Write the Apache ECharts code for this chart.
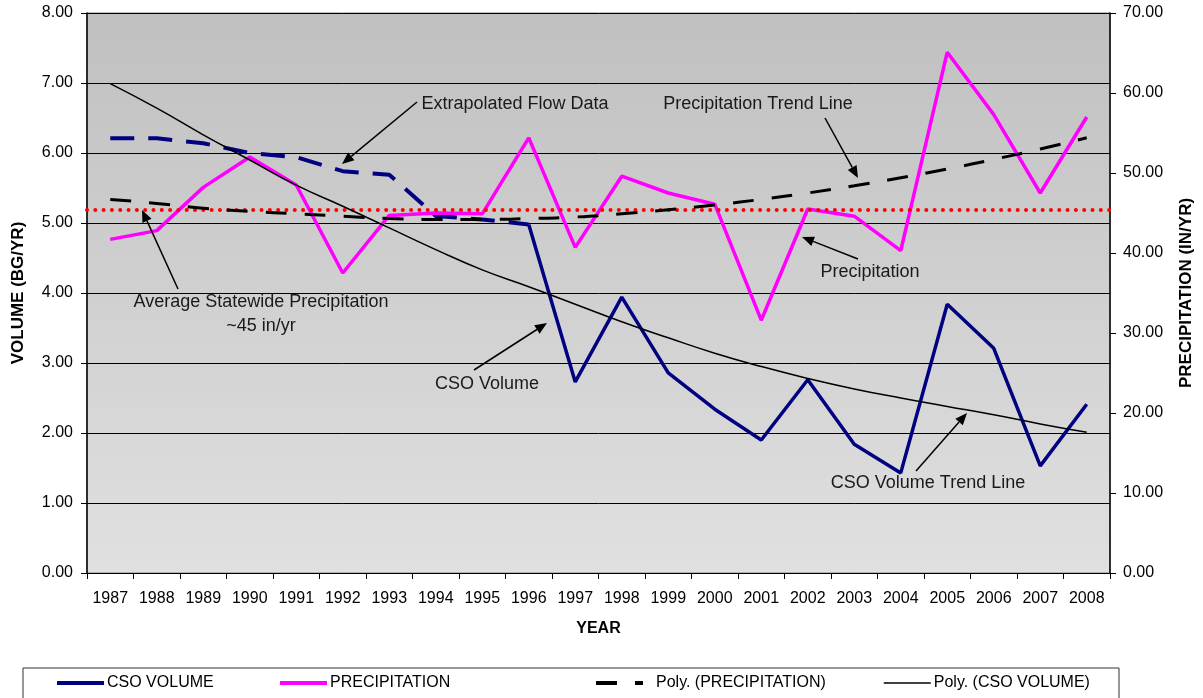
<!DOCTYPE html>
<html>
<head>
<meta charset="utf-8">
<script src="https://cdn.jsdelivr.net/npm/echarts@6/dist/echarts.min.js"></script>
<style>
  html, body { margin: 0; padding: 0; background: #fff; }
  #main { width: 1203px; height: 698px; }
</style>
</head>
<body>
<div id="main"></div>
<script>
// years on the category axis
var years = ['1987', '1988', '1989', '1990', '1991', '1992', '1993', '1994', '1995', '1996', '1997',
             '1998', '1999', '2000', '2001', '2002', '2003', '2004', '2005', '2006', '2007', '2008'];

// measured CSO volume (BG/YR), from 1996 on
var csoVolume = [null, null, null, null, null, null, null, null, null, 4.98, 2.73,
                 3.94, 2.86, 2.34, 1.90, 2.76, 1.84, 1.43, 3.84, 3.21, 1.53, 2.41];

// extrapolated flow data (BG/YR), 1987-1996
var extrapolated = [6.21, 6.21, 6.14, 6.00, 5.94, 5.74, 5.69, 5.10, 5.05, 4.98, null,
                    null, null, null, null, null, null, null, null, null, null, null];

// precipitation (IN/YR)
var precipitation = [41.7, 42.8, 48.2, 52.0, 48.5, 37.5, 44.7, 45.0, 44.9, 54.4, 40.7,
                     49.6, 47.5, 46.1, 31.6, 45.5, 44.6, 40.3, 65.1, 57.3, 47.5, 57.0];

// polynomial trend of precipitation (IN/YR)
var polyPrecip = [46.7, 46.2, 45.6, 45.2, 44.9, 44.6, 44.3, 44.2, 44.2, 44.3, 44.5,
                  44.9, 45.4, 46.0, 46.7, 47.5, 48.4, 49.4, 50.5, 51.7, 53.0, 54.4];

// polynomial trend of CSO volume (BG/YR)
var polyCso = [6.99, 6.64, 6.26, 5.90, 5.54, 5.24, 4.93, 4.62, 4.33, 4.09, 3.84,
               3.59, 3.36, 3.14, 2.95, 2.78, 2.63, 2.50, 2.38, 2.26, 2.13, 2.01];

// average statewide precipitation (IN/YR)
var avgPrecip = 45.4;

var FONT = '"Liberation Sans", Arial, sans-serif';

// arrow annotation: line from (x1,y1) with a filled head at (x2,y2)
function arrow(x1, y1, x2, y2) {
    var dx = x2 - x1, dy = y2 - y1;
    var len = Math.sqrt(dx * dx + dy * dy);
    var ux = dx / len, uy = dy / len;
    var hl = 12, hw = 5;
    var bx = x2 - ux * hl, by = y2 - uy * hl;
    return [{
        type: 'line',
        shape: { x1: x1, y1: y1, x2: bx, y2: by },
        style: { stroke: '#000', lineWidth: 1.5 },
        z: 100
    }, {
        type: 'polygon',
        shape: { points: [[x2, y2], [bx - uy * hw, by + ux * hw], [bx + uy * hw, by - ux * hw]] },
        style: { fill: '#000' },
        z: 100
    }];
}

function note(text, x, y) {
    return {
        type: 'text',
        x: x, y: y,
        style: {
            text: text, fill: '#1a1a1a', font: '18px ' + FONT,
            textAlign: 'center', textVerticalAlign: 'middle'
        },
        z: 100
    };
}

var graphics = [].concat(
    note('Extrapolated Flow Data', 515, 104),
    arrow(417, 102, 342, 164),
    note('Precipitation Trend Line', 758, 104),
    arrow(825, 118, 858, 178),
    note('Precipitation', 870, 272),
    arrow(858, 259, 802, 237),
    note('Average Statewide Precipitation', 261, 302),
    note('~45 in/yr', 261, 326),
    arrow(178, 289, 142, 210),
    note('CSO Volume', 487, 384),
    arrow(474, 370, 547, 323),
    note('CSO Volume Trend Line', 928, 483),
    arrow(916, 471, 967, 413),
    [{
        type: 'rect',
        shape: { x: 23, y: 668, width: 1096, height: 40 },
        style: { fill: 'none', stroke: '#333', lineWidth: 1 },
        z: 50
    }]
);

function legendAt(name, left, w, pad) {
    return {
        data: [name], left: left, top: 675, padding: 0,
        itemWidth: 47, itemHeight: 14, itemGap: 0,
        itemStyle: { opacity: 0 },
        lineStyle: { width: w },
        textStyle: { fontSize: 16, fontFamily: FONT, color: '#000', padding: [0, 0, 0, pad] }
    };
}

var chart = echarts.init(document.getElementById('main'));
chart.setOption({
    backgroundColor: '#fff',
    animation: false,
    textStyle: { fontFamily: FONT },
    grid: {
        left: 87, right: 93, top: 13, bottom: 125,
        show: true,
        borderColor: '#808080', borderWidth: 1,
        backgroundColor: new echarts.graphic.LinearGradient(0, 0, 0, 1, [
            { offset: 0, color: '#c0c0c0' },
            { offset: 1, color: '#e0e0e0' }
        ])
    },
    legend: [
        legendAt('CSO VOLUME', 55, 4, -2),
        legendAt('PRECIPITATION', 278, 4, -2),
        legendAt('Poly. (PRECIPITATION)', 594, 4, 8),
        legendAt('Poly. (CSO VOLUME)', 883, 1.5, -2)
    ],
    xAxis: {
        type: 'category',
        data: years,
        boundaryGap: true,
        name: 'YEAR',
        nameLocation: 'middle',
        nameGap: 48,
        nameTextStyle: { fontWeight: 'bold', fontSize: 16, color: '#000' },
        axisLine: { lineStyle: { color: '#000', width: 1 } },
        axisTick: { show: true, length: 6, lineStyle: { color: '#000' } },
        axisLabel: { fontSize: 16, color: '#000', margin: 18, interval: 0 },
        splitLine: { show: false }
    },
    yAxis: [{
        type: 'value',
        min: 0, max: 8, interval: 1,
        name: 'VOLUME (BG/YR)',
        nameLocation: 'middle',
        nameGap: 60,
        nameTextStyle: { fontWeight: 'bold', fontSize: 17, color: '#000' },
        axisLine: { show: true, lineStyle: { color: '#000', width: 1.5 } },
        axisTick: { show: true, length: 6, lineStyle: { color: '#000' } },
        axisLabel: { fontSize: 16, color: '#000', margin: 14, formatter: function (v) { return v.toFixed(2); } },
        splitLine: { show: true, lineStyle: { color: '#000', width: 1 } }
    }, {
        type: 'value',
        min: 0, max: 70, interval: 10,
        position: 'right',
        name: 'PRECIPITATION (IN/YR)',
        nameLocation: 'middle',
        nameGap: 68,
        nameTextStyle: { fontWeight: 'bold', fontSize: 17, color: '#000' },
        axisLine: { show: true, lineStyle: { color: '#000', width: 1.5 } },
        axisTick: { show: true, length: 6, lineStyle: { color: '#000' } },
        axisLabel: { fontSize: 16, color: '#000', margin: 13, formatter: function (v) { return v.toFixed(2); } },
        splitLine: { show: false }
    }],
    series: [{
        name: 'CSO VOLUME',
        type: 'line',
        yAxisIndex: 0,
        data: csoVolume,
        symbol: 'none',
        lineStyle: { color: '#000080', width: 3.5 },
        itemStyle: { color: '#000080' },
        z: 3
    }, {
        name: 'Extrapolated Flow Data',
        type: 'line',
        yAxisIndex: 0,
        data: extrapolated,
        symbol: 'none',
        lineStyle: { color: '#000080', width: 4, type: [24, 14] },
        itemStyle: { color: '#000080' },
        z: 3
    }, {
        name: 'PRECIPITATION',
        type: 'line',
        yAxisIndex: 1,
        data: precipitation,
        symbol: 'none',
        lineStyle: { color: '#ff00ff', width: 3.5 },
        itemStyle: { color: '#ff00ff' },
        z: 4,
        markLine: {
            silent: true,
            symbol: ['none', 'none'],
            label: { show: false },
            lineStyle: { color: '#ff0000', width: 4, type: [0.01, 8.3], cap: 'round' },
            data: [{ yAxis: avgPrecip }]
        }
    }, {
        name: 'Poly. (PRECIPITATION)',
        type: 'line',
        yAxisIndex: 1,
        data: polyPrecip,
        symbol: 'none',
        smooth: true,
        lineStyle: { color: '#000', width: 3, type: [21, 18] },
        itemStyle: { color: '#000' },
        z: 5
    }, {
        name: 'Poly. (CSO VOLUME)',
        type: 'line',
        yAxisIndex: 0,
        data: polyCso,
        symbol: 'none',
        smooth: true,
        lineStyle: { color: '#000', width: 1.5 },
        itemStyle: { color: '#000' },
        z: 6
    }],
    graphic: graphics
});
</script>
</body>
</html>
